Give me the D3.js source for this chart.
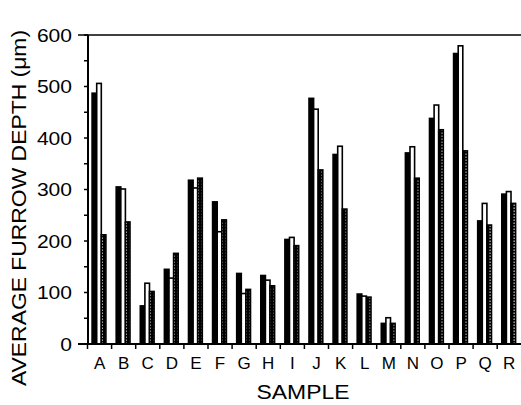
<!DOCTYPE html>
<html>
<head>
<meta charset="utf-8">
<script src="https://cdn.jsdelivr.net/npm/d3@7"></script>
<style>
body { margin: 0; background: #fff; }
svg { display: block; }
text { font-family: "Liberation Sans", Arial, sans-serif; fill: #000; }
</style>
</head>
<body>
<script>
var samples = ["A","B","C","D","E","F","G","H","I","J","K","L","M","N","O","P","Q","R"];
var series1 = [487,305,74,145,318,276,137,133,203,477,368,97,40,371,438,564,239,291];
var series2 = [506,301,118,128,303,218,98,124,207,456,384,93,51,383,464,579,273,296];
var series3 = [212,237,102,176,322,241,106,113,191,338,262,91,40,322,416,375,231,273];
var yTicks = [0,100,200,300,400,500,600];

var svg = d3.select("body").append("svg").attr("width",521).attr("height",405);

// stipple pattern for third bar
var pat = svg.append("defs").append("pattern")
    .attr("id","stip").attr("patternUnits","userSpaceOnUse")
    .attr("width",4).attr("height",3);
pat.append("rect").attr("width",4).attr("height",3).attr("fill","#000");
pat.append("rect").attr("x",1.6).attr("y",0.5).attr("width",1.2).attr("height",1.4).attr("fill","#fff");

var x = d3.scaleBand().domain(samples).range([87.5,521.3]).paddingInner(0).paddingOuter(0);
var y = d3.scaleLinear().domain([0,600]).range([344,35]);

var barW = 4.6;
var fills = ["#000","#fff","url(#stip)"];
var all = [series1,series2,series3];

all.forEach(function(s,k) {
  svg.selectAll("rect.s"+k).data(s).enter().append("rect")
    .attr("class","s"+k)
    .attr("x",function(d,i) { return x(samples[i]) + 4.6 + k*barW; })
    .attr("y",function(d) { return y(d); })
    .attr("width",barW)
    .attr("height",function(d) { return y(0) - y(d); })
    .attr("fill",fills[k])
    .attr("stroke","#000")
    .attr("stroke-width",1.6);
});

// frame lines
svg.append("line").attr("x1",78).attr("x2",521).attr("y1",y(600)).attr("y2",y(600))
  .attr("stroke","#000").attr("stroke-width",1.5);
svg.append("line").attr("x1",78).attr("x2",521).attr("y1",y(0)).attr("y2",y(0))
  .attr("stroke","#000").attr("stroke-width",2);
svg.append("line").attr("x1",88).attr("x2",88).attr("y1",y(600)).attr("y2",y(0))
  .attr("stroke","#000").attr("stroke-width",2);

// y ticks (minor every 50)
svg.selectAll("line.yt").data(d3.range(0,601,50)).enter().append("line")
  .attr("class","yt")
  .attr("x1",84).attr("x2",88)
  .attr("y1",function(d){ return y(d); }).attr("y2",function(d){ return y(d); })
  .attr("stroke","#000").attr("stroke-width",1.5);

svg.selectAll("text.yl").data(yTicks).enter().append("text")
  .attr("class","yl")
  .attr("x",72).attr("y",function(d){ return y(d) + 6.5; })
  .attr("text-anchor","end")
  .attr("font-size",19)
  .attr("textLength",function(d){ return String(d).length * 11.7; })
  .attr("lengthAdjust","spacingAndGlyphs")
  .text(function(d){ return d; });

// x ticks at band edges
svg.selectAll("line.xt").data(samples).enter().append("line")
  .attr("class","xt")
  .attr("x1",function(d){ return x(d); }).attr("x2",function(d){ return x(d); })
  .attr("y1",344).attr("y2",349)
  .attr("stroke","#000").attr("stroke-width",1.5);

svg.selectAll("text.xl").data(samples).enter().append("text")
  .attr("class","xl")
  .attr("x",function(d){ return x(d) + x.bandwidth()/2; })
  .attr("y",369)
  .attr("text-anchor","middle")
  .attr("font-size",17)
  .text(function(d){ return d; });

svg.append("text")
  .attr("x",303).attr("y",399)
  .attr("text-anchor","middle")
  .attr("font-size",20)
  .attr("textLength",93).attr("lengthAdjust","spacingAndGlyphs")
  .text("SAMPLE");

svg.append("text")
  .attr("transform","translate(26,208) rotate(-90)")
  .attr("text-anchor","middle")
  .attr("font-size",21)
  .attr("textLength",356).attr("lengthAdjust","spacingAndGlyphs")
  .text("AVERAGE  FURROW  DEPTH (μm)");
</script>
</body>
</html>
